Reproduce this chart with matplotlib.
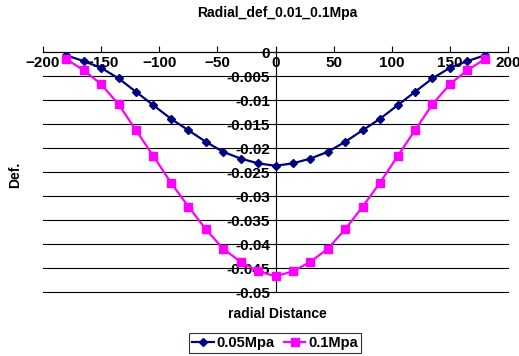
import numpy as np
import matplotlib
matplotlib.use("Agg")
import matplotlib.pyplot as plt

plt.rcParams['font.family'] = ['Liberation Sans', 'DejaVu Sans']
plt.rcParams['font.weight'] = 'bold'

# radial positions and deflections
radial = [-180, -165, -150, -135, -120, -105, -90, -75, -60, -45, -30, -15, 0,
          15, 30, 45, 60, 75, 90, 105, 120, 135, 150, 165, 180]
def_005 = [-0.0007, -0.0019, -0.0033, -0.0055, -0.0083, -0.0111, -0.0139, -0.0163,
           -0.0187, -0.0208, -0.0222, -0.0232, -0.0237,
           -0.0232, -0.0222, -0.0208, -0.0187, -0.0163, -0.0139, -0.0111,
           -0.0083, -0.0055, -0.0033, -0.0019, -0.0007]
def_01 = [-0.0015, -0.0038, -0.0067, -0.0109, -0.0163, -0.0217, -0.0272, -0.0322,
          -0.0369, -0.0410, -0.0437, -0.0457, -0.0467,
          -0.0457, -0.0437, -0.0410, -0.0369, -0.0322, -0.0272, -0.0217,
          -0.0163, -0.0109, -0.0067, -0.0038, -0.0015]

x_ticks = [-200, -150, -100, -50, 0, 50, 100, 150, 200]
y_ticks = [0, -0.005, -0.01, -0.015, -0.02, -0.025, -0.03, -0.035, -0.04, -0.045, -0.05]

fig = plt.figure(figsize=(5.19, 3.56), dpi=100)
ax = fig.add_axes([43/519, 1 - 292/356, 465/519, 240/356])

for yt in y_ticks:
    ax.axhline(yt, color='black', lw=0.8, zorder=1, clip_on=False)

ax.plot(radial, def_005, color='#000080', marker='D', ms=4, lw=1.6, label='0.05Mpa', zorder=3)
ax.plot(radial, def_01, color='#FF00FF', marker='s', ms=6, lw=1.6, label='0.1Mpa', zorder=3)

ax.set_xlim(-200, 200)
ax.set_ylim(-0.05, 0)
ax.set_xticks(x_ticks)
ax.set_yticks(y_ticks)
ax.set_yticklabels(['0' if v == 0 else f'{v:g}' for v in y_ticks])

ax.spines['top'].set_visible(False)
ax.spines['right'].set_visible(False)
ax.spines['left'].set_position(('data', 0))
ax.spines['bottom'].set_position(('data', 0))
for s in ('left', 'bottom'):
    ax.spines[s].set_linewidth(0.8)
    ax.spines[s].set_zorder(2)
ax.tick_params(axis='x', direction='in', length=4, labelsize=11, pad=3)
ax.tick_params(axis='y', direction='out', length=3, labelsize=11, pad=1)

fig.text(277/519, 1 - 13/356, 'Radial_def_0.01_0.1Mpa', ha='center', va='center',
         fontsize=10, fontweight='bold')
fig.text(15/519, 1 - 175/356, 'Def.', ha='center', va='center', rotation=90,
         fontsize=10, fontweight='bold')
fig.text(277/519, 1 - 314/356, 'radial Distance', ha='center', va='center',
         fontsize=10, fontweight='bold')

leg = fig.legend(loc='center', bbox_to_anchor=(275/519, 1 - 343/356), ncol=2,
                 fontsize=10.5, frameon=True, fancybox=False, edgecolor='black',
                 handlelength=1.5, handletextpad=0.2, columnspacing=0.6,
                 borderpad=0.2, borderaxespad=0)
leg.get_frame().set_linewidth(0.8)

fig.savefig('out.png', dpi=100)
